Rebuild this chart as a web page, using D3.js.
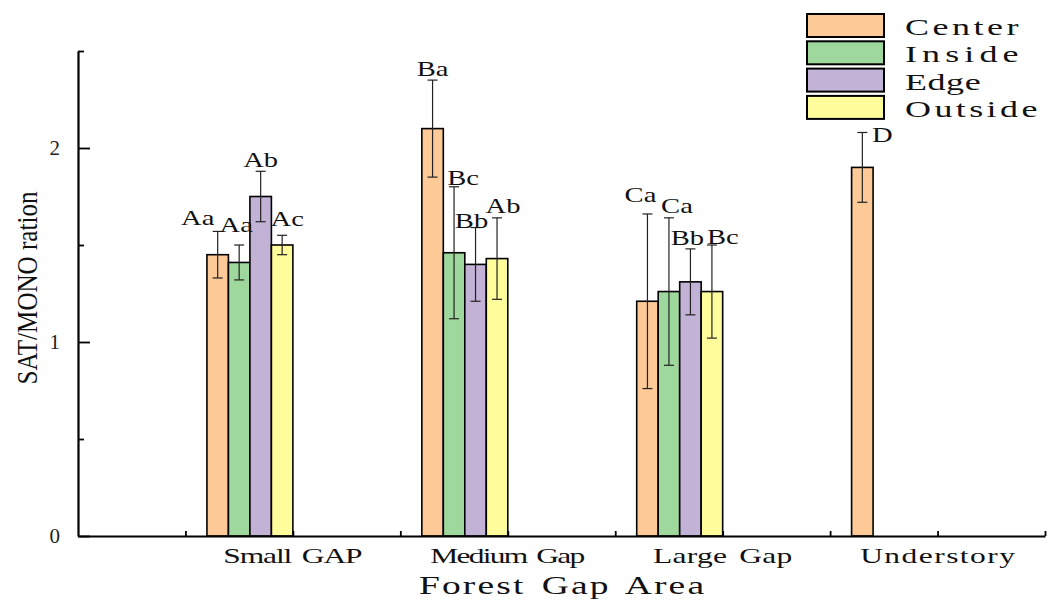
<!DOCTYPE html>
<html>
  <head>
    <meta charset="utf-8">
    <style>
      body { margin: 0; background: #fff; }
      svg { display: block; }
    </style>
    <script src="https://d3js.org/d3.v7.min.js"></script>
  </head>
  <body>
    <svg></svg>
    <script>
    // ---- data ----
    var groups = ["Small GAP", "Medium Gap", "Large Gap", "Understory"];
    var series = ["Center", "Inside", "Edge", "Outside"];

    var centerMean  = [1.45, 2.10, 1.21, 1.90];
    var centerErr   = [0.12, 0.25, 0.45, 0.18];
    var insideMean  = [1.41, 1.46, 1.26, null];
    var insideErr   = [0.09, 0.34, 0.38, null];
    var edgeMean    = [1.75, 1.40, 1.31, null];
    var edgeErr     = [0.13, 0.19, 0.17, null];
    var outsideMean = [1.50, 1.43, 1.26, null];
    var outsideErr  = [0.05, 0.21, 0.24, null];

    var centerLetters  = ["Aa", "Ba", "Ca", "D"];
    var insideLetters  = ["Aa", "Bc", "Ca", null];
    var edgeLetters    = ["Ab", "Bb", "Bb", null];
    var outsideLetters = ["Ac", "Ab", "Bc", null];

    var yTicks = [0, 0.5, 1, 1.5, 2, 2.5];
    var yLabelTicks = [0, 1, 2];

    var colors = ["#fcc997", "#9ed89d", "#c2b2d6", "#fffc9c"];

    var means   = [centerMean, insideMean, edgeMean, outsideMean];
    var errs    = [centerErr, insideErr, edgeErr, outsideErr];
    var letters = [centerLetters, insideLetters, edgeLetters, outsideLetters];

    // small hand nudges for the significance letters (dx, dy), as placed in the figure
    var nudge = {
      "0-0": [-20, -2], "0-1": [-3, -9], "0-3": [5, -5],
      "1-1": [9, 2], "1-2": [-4, 4], "1-3": [6, -1],
      "2-0": [-7, -8], "2-1": [8, -1], "2-2": [-3, 0], "2-3": [11, 3],
      "3-0": [20, 14]
    };

    var width = 1058, height = 602;
    var serif = "'Liberation Serif', 'Times New Roman', serif";

    var svg = d3.select("svg")
        .attr("width", width)
        .attr("height", height);

    var x = d3.scaleLinear().domain([0, 4.5]).range([78, 1045]);
    var y = d3.scaleLinear().domain([0, 2.5]).range([536, 51]);

    // flatten into bar records
    var bars = [];
    groups.forEach(function(g, gi) {
      series.forEach(function(s, si) {
        if (means[si][gi] == null) return;
        bars.push({
          gi: gi, si: si,
          pos: gi + 1 - 0.4 + si * 0.1,
          v: means[si][gi], e: errs[si][gi], letter: letters[si][gi]
        });
      });
    });
    var bw = x(0.1) - x(0);

    // bars
    svg.append("g").selectAll("rect")
      .data(bars)
      .enter().append("rect")
        .attr("x", function(d) { return x(d.pos); })
        .attr("y", function(d) { return y(d.v); })
        .attr("width", bw)
        .attr("height", function(d) { return y(0) - y(d.v); })
        .attr("fill", function(d) { return colors[d.si]; })
        .attr("stroke", "#000")
        .attr("stroke-width", 1.6);

    // error bars
    var eb = svg.append("g")
        .attr("stroke", "#222")
        .attr("stroke-width", 1.2);
    bars.forEach(function(d) {
      var cx = x(d.pos) + bw / 2;
      eb.append("line").attr("x1", cx).attr("x2", cx)
        .attr("y1", y(d.v + d.e)).attr("y2", y(d.v - d.e));
      eb.append("line").attr("x1", cx - 5).attr("x2", cx + 5)
        .attr("y1", y(d.v + d.e)).attr("y2", y(d.v + d.e));
      eb.append("line").attr("x1", cx - 5).attr("x2", cx + 5)
        .attr("y1", y(d.v - d.e)).attr("y2", y(d.v - d.e));
    });

    // significance letters
    bars.forEach(function(d) {
      var n = nudge[d.gi + "-" + d.si] || [0, 0];
      var cx = x(d.pos) + bw / 2 + n[0];
      var ty = y(d.v + d.e) - 4 + n[1];
      svg.append("text")
        .attr("transform", "translate(" + cx + "," + ty + ") scale(1.3,1)")
        .attr("text-anchor", "middle")
        .attr("font-family", serif)
        .attr("font-size", 22)
        .attr("fill", "#111")
        .text(d.letter);
    });

    // wide, spaced-out text like the original export
    function wideText(parent, str, px, py, size, cell, anchor) {
      var sx = 1.5;
      var target = cell * str.length * 0.98;
      var x0 = anchor === "middle" ? px - target / 2 : px;
      return parent.append("text")
        .attr("transform", "translate(" + x0 + "," + py + ") scale(" + sx + ",1)")
        .attr("font-family", serif)
        .attr("font-size", size)
        .attr("fill", "#111")
        .style("word-spacing", (size * 0.12) + "px")
        .attr("textLength", target / sx)
        .attr("lengthAdjust", "spacing")
        .text(str);
    }

    // y axis
    var yAxis = svg.append("g")
        .attr("transform", "translate(" + x(0) + ",0)")
        .call(d3.axisLeft(y)
          .tickValues(yTicks)
          .tickSize(-12)
          .tickSizeOuter(0)
          .tickPadding(18)
          .tickFormat(function(d) { return yLabelTicks.indexOf(d) >= 0 ? d3.format("d")(d) : ""; }));
    yAxis.select(".domain").attr("stroke-width", 2.2);
    yAxis.selectAll(".tick line")
        .attr("stroke-width", 1.8)
        .attr("x2", function(d) { return yLabelTicks.indexOf(d) >= 0 ? 12 : 6; });
    yAxis.selectAll(".tick text")
        .attr("font-family", serif)
        .attr("font-size", 21)
        .attr("fill", "#222");

    // x axis
    var xAxis = svg.append("g")
        .attr("transform", "translate(0," + y(0) + ")")
        .call(d3.axisBottom(x)
          .tickValues(d3.range(0.5, 4.51, 0.5))
          .tickSize(-5)
          .tickSizeOuter(0)
          .tickFormat(""));
    xAxis.select(".domain").attr("stroke-width", 2.2);
    xAxis.selectAll(".tick line").attr("stroke-width", 1.8);

    groups.forEach(function(g, gi) {
      wideText(svg, g, x(gi + 1), 563, 21, 15.8, "middle");
    });

    // axis titles
    wideText(svg, "Forest Gap Area", (x(0) + x(4.5)) / 2, 594, 25, 19.4, "middle");

    svg.append("text")
        .attr("transform", "translate(37,288) rotate(-90) scale(1,1.3)")
        .attr("text-anchor", "middle")
        .attr("font-family", serif)
        .attr("font-size", 22)
        .attr("fill", "#111")
        .attr("textLength", 193)
        .attr("lengthAdjust", "spacingAndGlyphs")
        .text("SAT/MONO ration");

    // legend
    var legend = svg.append("g");
    series.forEach(function(s, i) {
      var top = 14 + i * 27.3;
      legend.append("rect")
        .attr("x", 807).attr("y", top)
        .attr("width", 77).attr("height", 23)
        .attr("fill", colors[i])
        .attr("stroke", "#000")
        .attr("stroke-width", 2);
      wideText(legend, s, 905, top + 21, 24, 19.3, "start");
    });
    </script>
  </body>
</html>
